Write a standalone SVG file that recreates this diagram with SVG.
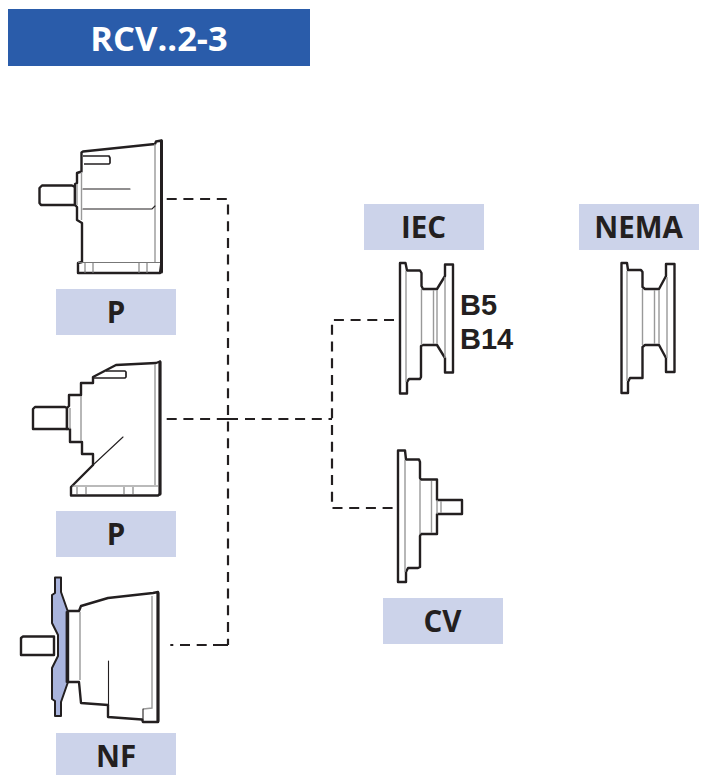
<svg xmlns="http://www.w3.org/2000/svg" width="709" height="775" viewBox="0 0 709 775">
<style>
.lb{fill:#ccd3ea}
.t{font-family:"Open Sans","Noto Sans",sans-serif;font-weight:700;fill:#231f20;text-anchor:middle;font-size:29.500px}
.s{font-family:"Liberation Sans",Arial,sans-serif;font-weight:700;font-size:29px;fill:#231f20}
.k{fill:#fff;stroke:#231f20;stroke-width:2.400;stroke-linejoin:round;stroke-linecap:round}
.o{fill:none;stroke:#231f20;stroke-width:1.700;stroke-linejoin:round}
.e{fill:none;stroke:#231f20;stroke-width:3;stroke-linecap:round}
.n{fill:none;stroke:#231f20;stroke-width:1.100;stroke-linecap:round}
.b{fill:none;stroke:#777;stroke-width:1.100}
.g{fill:none;stroke:#999;stroke-width:1.400}
.d{fill:none;stroke:#231f20;stroke-width:2.200;stroke-dasharray:10 6.700}
</style>
<g id="title"><rect x="8" y="9" width="302" height="57" fill="#2a5caa"/><text x="159" y="51" style="font-family:'Open Sans','Noto Sans',sans-serif;font-weight:700;fill:#fff;text-anchor:middle;font-size:34.500px">RCV..2-3</text></g>
<g id="connectors">
<path class="d" d="M166.700 199H228V645"/>
<path class="d" style="stroke-dasharray:10 6.700 10 6.700 10 6.700 21.300" d="M166.700 419H238"/>
<path class="d" d="M245 419H332"/>
<path class="d" d="M394 320H332V508H394"/>
<path class="d" style="stroke-dasharray:15 6.300 10 6.700 10 6.700 3" d="M228 645H170"/>
</g>
<g id="unit-p1">
<path class="k" d="M39.500 188L42 185.500H72L75 187V205H41L39.500 203Z"/>
<path class="k" d="M75 184L77 183V173L81.500 171.500V152.500L83 151.500L155 144L156 141.500L161.500 140.500V262H161.500L160 273H78V263L82 262V223L77 220V207L75 205Z"/>
<path class="g" d="M155 144V262M77 184V205M81.500 172V220"/>
<path class="n" d="M83 189H130M83 209H152L155 206"/>
<path class="o" d="M83 156H109L110 158V163L109 164H84"/>
<path class="b" d="M78 262.500H160M85 263V273M93 263V273M139 263V273M147 263V273"/>
<path class="e" d="M161.500 141V272"/>
</g>
<g id="label-p1"><rect class="lb" x="56" y="289" width="120" height="46"/><text class="t" x="116" y="323">P</text></g>
<g id="unit-p2">
<path class="k" d="M33 409L35 407H65L67 408V429H33Z"/>
<path class="k" d="M67 408L69 406V395H81L81 383H93V377L116 365L156 363L160 361.500V494L158 495.500H71V487L93 465V454H82V442H70V429H67Z"/>
<path class="g" d="M155 364V485M81 396V441M70 408V429"/>
<path class="n" d="M93 465L123 437"/>
<path class="o" d="M106 371H125L126 372V377L125 378H94"/>
<path class="b" d="M72 486H158M77 487V494M86 487V494M124 487V494M133 487V494"/>
<path class="e" d="M160 362V494"/>
</g>
<g id="label-p2"><rect class="lb" x="56" y="511" width="120" height="46"/><text class="t" x="116" y="545">P</text></g>
<g id="unit-nf">
<path class="k" d="M21 638L23 636.500H54V655H21Z"/>
<path class="k" d="M68 611H79L81 606L108 598L153 593L158 592V722H143L142 719.500L108 717V705L81 703L79 682H68Z"/>
<path class="k" style="fill:#a9b4dd;stroke-width:2" d="M55 577.500H61V592L68 612V682L61 702V716H55V701L52 699V668L58 656V635L52 623V595L55 593Z"/>
<path class="g" d="M152 596V708L143 709M80 612V680"/>
<path class="n" d="M108.500 661V706M143 709V720"/>
<path class="n" style="stroke-width:1.800" d="M66.500 612V682"/>
<path class="e" d="M158 593V721"/>
</g>
<g id="label-nf"><rect class="lb" x="56" y="733" width="120" height="42"/><text class="t" x="116" y="767">NF</text></g>
<g id="label-iec"><rect class="lb" x="364" y="204" width="120" height="46"/><text class="t" x="423.500" y="238">IEC</text></g>
<g id="flange-iec">
<path class="k" d="M400 263H405.500L407 270.500H420L421.500 273V286L423 289H437L445 276V264.500H453V372.500H445V358L437 345H423L421 346V377L420 379H409L407 382V393.500H400Z"/>
<path class="g" d="M406 271V382M421.500 289V345M433.500 290V344M437 290V344M445 277V358"/>
<text class="s" x="460" y="315">B5</text>
<text class="s" x="460" y="349">B14</text>
</g>
<g id="label-nema"><rect class="lb" x="579" y="204" width="120" height="46"/><text class="t" x="638.500" y="238">NEMA</text></g>
<g id="flange-nema">
<path class="k" d="M621.500 263H627L628 270H641L642.500 272V287L645 289H659L666 276V264H674.500V372H666V358L659 345H645L642.500 347V378H630L628 382V393H621.500Z"/>
<path class="g" d="M627 271V381M642.500 289V345M654.500 290V344M659 290V344M667 277V358"/>
</g>
<g id="flange-cv">
<path class="k" d="M398 450.500H405L406 459.500H419L420 462V478L421 479.500H437V500H462V514H437V534H421L420 536V567L418 568H408L406 572V582H398Z"/>
<path class="g" d="M405 460V572M420 480V534M431.500 481V533M437 500V514M441 501V513"/>
</g>
<g id="label-cv"><rect class="lb" x="383" y="598" width="120" height="46"/><text class="t" x="442.500" y="632">CV</text></g>
</svg>
